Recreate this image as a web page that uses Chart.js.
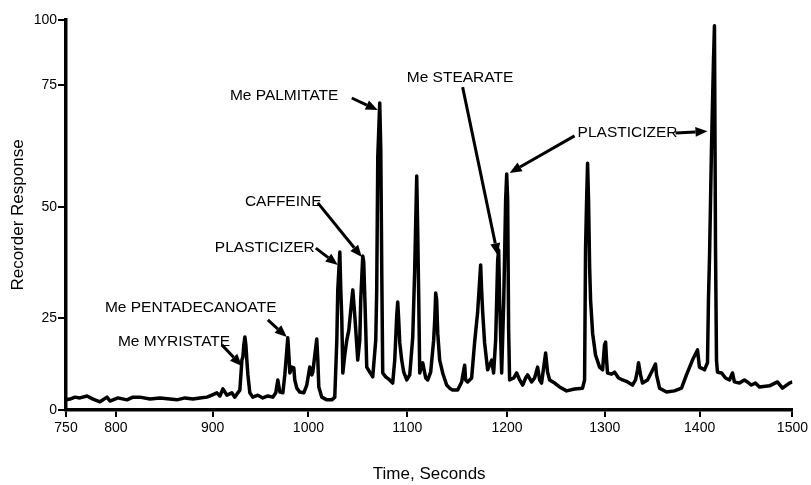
<!DOCTYPE html>
<html>
<head>
<meta charset="utf-8">
<script src="https://cdn.jsdelivr.net/npm/chart.js@4.4.1/dist/chart.umd.min.js"></script>
<style>
  html, body { margin: 0; padding: 0; background: #fff; }
  #wrap { width: 811px; height: 485px; }
</style>
</head>
<body>
<div id="wrap"><canvas id="chrom" width="811" height="485"></canvas></div>
<script>
// Chromatogram trace
const seconds = [
    750.0, 754.1, 759.3, 764.4, 771.7, 777.9, 785.1, 792.3, 795.4, 803.6,
    812.9, 819.1, 826.3, 836.7, 847.0, 857.3, 864.5, 872.8, 881.0, 888.2,
    895.5, 900.6, 905.8, 908.9, 912.0, 916.1, 921.2, 924.3, 927.4, 929.5,
    931.6, 932.6, 933.6, 934.7, 935.7, 936.7, 937.8, 939.8, 942.9, 948.1,
    953.2, 958.4, 963.5, 966.6, 968.7, 970.8, 973.9, 975.9, 978.0, 979.0,
    980.1, 981.1, 983.2, 985.2, 986.2, 988.3, 991.4, 995.5, 998.6, 1001.7,
    1003.8, 1004.8, 1006.9, 1008.9, 1010.0, 1011.0, 1014.1, 1019.3, 1024.4, 1027.5,
    1029.6, 1030.6, 1032.7, 1033.7, 1034.7, 1035.8, 1037.8, 1039.9, 1042.0, 1044.0,
    1046.1, 1048.1, 1050.2, 1051.2, 1053.3, 1054.3, 1056.4, 1057.4, 1058.5, 1059.5,
    1060.5, 1063.6, 1066.7, 1069.8, 1070.8, 1071.9, 1073.9, 1075.0, 1076.0, 1077.0,
    1080.1, 1084.2, 1087.3, 1089.4, 1091.5, 1092.5, 1093.5, 1094.6, 1096.6, 1098.7,
    1101.8, 1104.9, 1108.0, 1110.0, 1112.1, 1113.1, 1114.2, 1115.2, 1118.3, 1121.4,
    1123.5, 1126.5, 1129.6, 1130.7, 1131.7, 1132.7, 1133.8, 1135.8, 1138.9, 1143.0,
    1146.1, 1149.2, 1154.4, 1158.5, 1161.6, 1162.6, 1164.7, 1168.8, 1171.9, 1175.0,
    1177.1, 1178.1, 1179.1, 1180.2, 1182.2, 1185.3, 1189.5, 1191.5, 1193.6, 1195.7,
    1196.7, 1197.7, 1199.8, 1201.9, 1203.9, 1205.0, 1206.0, 1207.0, 1208.0, 1212.2,
    1215.3, 1218.4, 1221.5, 1224.5, 1226.6, 1230.7, 1233.8, 1236.9, 1239.0, 1241.0,
    1245.2, 1247.2, 1249.3, 1254.5, 1259.6, 1266.8, 1275.1, 1283.3, 1285.4, 1286.4,
    1287.5, 1288.5, 1289.5, 1290.6, 1291.6, 1293.7, 1296.7, 1300.9, 1304.0, 1306.0,
    1307.1, 1308.1, 1309.1, 1313.3, 1316.4, 1320.5, 1324.6, 1329.8, 1334.9, 1338.0,
    1340.1, 1341.1, 1343.2, 1345.2, 1350.4, 1354.5, 1358.6, 1359.7, 1362.8, 1370.0,
    1378.2, 1385.5, 1390.6, 1396.8, 1402.0, 1404.0, 1409.2, 1412.3, 1413.3, 1414.4,
    1416.4, 1418.5, 1419.5, 1420.6, 1421.6, 1422.6, 1426.8, 1430.9, 1435.0, 1438.1,
    1440.1, 1445.3, 1450.4, 1453.5, 1457.6, 1461.8, 1465.9, 1476.3, 1484.5, 1489.7,
    1496.9, 1500.0
];

const response = [
    2.6, 2.8, 3.3, 3.1, 3.6, 2.8, 2.1, 3.3, 2.3, 3.1,
    2.6, 3.3, 3.3, 2.8, 3.1, 2.8, 2.6, 3.1, 2.8, 3.1,
    3.3, 3.8, 4.4, 3.6, 5.4, 3.8, 4.4, 3.3, 4.4, 5.1,
    12.8, 13.6, 16.7, 18.7, 16.7, 12.8, 9.0, 4.4, 3.3, 3.8,
    3.1, 3.6, 3.3, 4.4, 7.7, 4.6, 4.4, 9.0, 15.4, 18.5,
    14.1, 9.5, 11.0, 10.8, 7.7, 5.6, 4.6, 4.4, 6.4, 11.0,
    9.0, 9.7, 14.1, 18.2, 12.8, 5.9, 3.3, 2.6, 2.6, 3.3,
    17.9, 30.8, 40.5, 30.8, 23.8, 9.5, 14.1, 17.9, 20.5, 25.6,
    30.8, 24.4, 16.7, 12.8, 17.9, 28.2, 39.5, 37.9, 29.0, 20.5,
    11.0, 9.7, 8.5, 17.9, 30.8, 64.9, 78.7, 66.7, 35.9, 9.5,
    8.5, 7.7, 6.9, 12.8, 24.4, 27.7, 23.1, 17.2, 12.8, 9.7,
    7.7, 9.0, 18.7, 35.9, 60.0, 46.2, 28.2, 9.5, 12.1, 8.2,
    7.7, 9.7, 17.9, 23.1, 30.0, 28.2, 19.7, 12.8, 9.5, 6.4,
    5.6, 5.1, 5.1, 7.2, 11.5, 7.7, 7.2, 8.2, 17.4, 25.1,
    33.3, 37.2, 30.8, 25.1, 17.2, 10.3, 12.8, 9.5, 17.9, 38.5,
    41.0, 28.2, 9.5, 27.4, 53.8, 60.5, 53.8, 20.5, 7.7, 8.2,
    9.5, 7.7, 6.4, 8.2, 9.0, 7.2, 8.2, 11.0, 7.7, 6.9,
    14.6, 9.7, 7.7, 6.9, 5.9, 4.9, 5.4, 5.6, 7.7, 41.0,
    53.8, 63.3, 53.8, 36.7, 28.2, 19.7, 14.1, 11.0, 10.3, 16.7,
    17.4, 12.8, 9.5, 9.2, 9.7, 8.2, 7.7, 7.2, 6.4, 7.7,
    10.3, 12.1, 9.0, 6.9, 7.7, 9.7, 11.8, 9.0, 5.6, 4.6,
    4.9, 5.6, 9.0, 12.8, 15.4, 11.0, 10.3, 12.1, 28.2, 39.2,
    66.7, 89.7, 98.5, 41.0, 12.8, 9.7, 9.5, 8.2, 7.7, 9.5,
    7.2, 6.9, 7.7, 7.2, 6.4, 6.9, 5.9, 6.2, 7.2, 5.6,
    6.9, 7.2
];

// The recorder axis is hand-ruled, so labels do not sit at even spacing
const xTickValues = [750, 801.5, 901.4, 1000.3, 1102.3, 1205.3, 1306.3, 1404.2, 1500];
const xTickLabels = ['750', '800', '900', '1000', '1100', '1200', '1300', '1400', '1500'];
const yTickValues = [0, 23.6, 52.1, 83.3, 100];
const yTickLabels = ['0', '25', '50', '75', '100'];

// Peak labels: text anchor, then arrows as [tailX, tailY, tipX, tipY]
const peakLabels = [
    { text: 'Me PALMITATE', at: [919.2, 80.5], arrows: [[1045.0, 80.0, 1071.9, 76.9]] },
    { text: 'CAFFEINE', at: [934.7, 53.3], arrows: [[1010.0, 53.1, 1055.4, 39.2]] },
    { text: 'PLASTICIZER', at: [903.7, 41.5], arrows: [[1007.9, 41.5, 1030.6, 37.2]] },
    { text: 'Me PENTADECANOATE', at: [790.2, 26.2], arrows: [[958.4, 23.1, 978.0, 18.7]] },
    { text: 'Me MYRISTATE', at: [803.6, 17.4], arrows: [[910.9, 16.7, 931.6, 11.3]] },
    { text: 'Me STEARATE', at: [1101.8, 85.1], arrows: [[1159.5, 82.8, 1195.7, 39.7]] },
    { text: 'PLASTICIZER', at: [1278.2, 71.0], arrows: [[1275.1, 70.3, 1208.0, 60.8], [1379.3, 71.0, 1412.3, 71.5]] }
];

const FONT = "'Liberation Sans', Arial, Helvetica, sans-serif";
Chart.defaults.font.family = FONT;
Chart.defaults.color = '#000';

const peakLabelPlugin = {
    id: 'peakLabels',
    afterDatasetsDraw(chart) {
        const ctx = chart.ctx;
        const xs = chart.scales.x;
        const ys = chart.scales.y;
        ctx.save();
        ctx.fillStyle = '#000';
        ctx.strokeStyle = '#000';
        ctx.font = '15.5px ' + FONT;
        ctx.textAlign = 'left';
        ctx.textBaseline = 'middle';
        peakLabels.forEach(lbl => {
            ctx.fillText(lbl.text, xs.getPixelForValue(lbl.at[0]), ys.getPixelForValue(lbl.at[1]));
            lbl.arrows.forEach(a => {
                const x0 = xs.getPixelForValue(a[0]), y0 = ys.getPixelForValue(a[1]);
                const x1 = xs.getPixelForValue(a[2]), y1 = ys.getPixelForValue(a[3]);
                const ang = Math.atan2(y1 - y0, x1 - x0);
                const headLen = 12, headW = 5;
                const bx = x1 - headLen * Math.cos(ang), by = y1 - headLen * Math.sin(ang);
                ctx.lineWidth = 3;
                ctx.beginPath();
                ctx.moveTo(x0, y0);
                ctx.lineTo(bx, by);
                ctx.stroke();
                ctx.beginPath();
                ctx.moveTo(x1, y1);
                ctx.lineTo(bx + headW * Math.sin(ang), by - headW * Math.cos(ang));
                ctx.lineTo(bx - headW * Math.sin(ang), by + headW * Math.cos(ang));
                ctx.closePath();
                ctx.fill();
            });
        });
        ctx.restore();
    }
};

const chart = new Chart(document.getElementById('chrom').getContext('2d'), {
    type: 'line',
    data: {
        datasets: [{
            data: seconds.map((s, i) => ({ x: s, y: response[i] })),
            borderColor: '#000',
            borderWidth: 3.5,
            borderJoinStyle: 'round',
            pointRadius: 0,
            tension: 0,
            fill: false
        }]
    },
    options: {
        responsive: false,
        animation: false,
        layout: { padding: { top: 20, right: 18, left: 0, bottom: 0 } },
        plugins: {
            legend: { display: false },
            tooltip: { enabled: false }
        },
        scales: {
            x: {
                type: 'linear',
                min: 750,
                max: 1500,
                afterBuildTicks: scale => { scale.ticks = xTickValues.map(v => ({ value: v })); },
                afterFit: scale => { scale.height = 75; },
                ticks: {
                    autoSkip: false,
                    maxRotation: 0,
                    padding: 3,
                    font: { size: 14 },
                    callback: (v, i) => xTickLabels[i]
                },
                grid: { drawOnChartArea: false, tickLength: 7, tickColor: '#000', lineWidth: 2 },
                border: { display: true, color: '#000', width: 3.5 },
                title: { display: true, text: 'Time, Seconds', font: { size: 17 }, padding: { top: 0, bottom: 0 } }
            },
            y: {
                type: 'linear',
                min: 0,
                max: 100,
                afterBuildTicks: scale => { scale.ticks = yTickValues.map(v => ({ value: v })); },
                afterFit: scale => { scale.width = 66; },
                ticks: {
                    autoSkip: false,
                    padding: 1,
                    font: { size: 14 },
                    callback: (v, i) => yTickLabels[i]
                },
                grid: { drawOnChartArea: false, tickLength: 8, tickColor: '#000', lineWidth: 2 },
                border: { display: true, color: '#000', width: 3.5 },
                title: { display: true, text: 'Recorder Response', font: { size: 17 }, padding: { top: 8, bottom: 0 } }
            }
        }
    },
    plugins: [peakLabelPlugin]
});
</script>
</body>
</html>
